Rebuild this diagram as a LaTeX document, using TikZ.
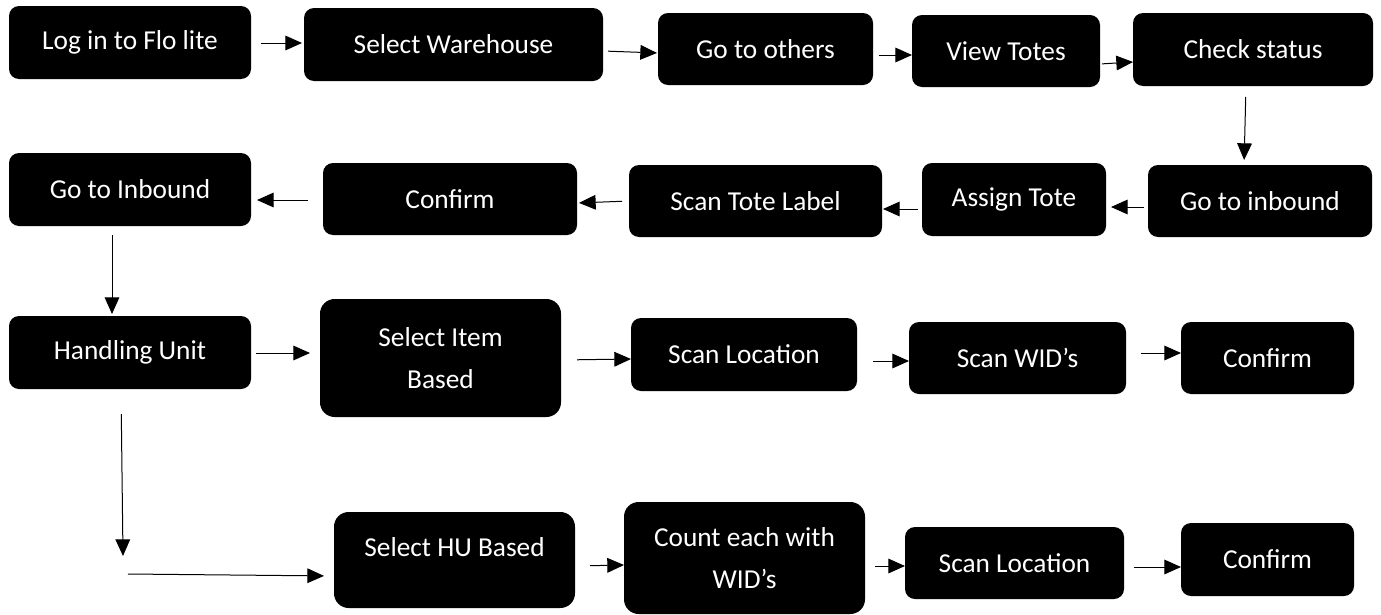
\documentclass[tikz,border=0pt]{standalone}
\usepackage{fontspec}
\setmainfont{Carlito}
\usetikzlibrary{arrows.meta}

\tikzset{every picture/.style={line width=0.75pt}}
\tikzset{
  box/.style 2 args={fill=black, rounded corners=7.5pt, text=white, inner sep=0pt, outer sep=0pt, align=center,
    font=\fontsize{20.5pt}{32pt}\selectfont, minimum width=#1pt, minimum height=#2pt},
  flow/.style={draw=black, -{Triangle[length=12.5pt,width=11pt]}}
}

\begin{document}
\begin{tikzpicture}[x=0.75pt,y=0.75pt,yscale=-1,xscale=1]
\useasboundingbox (0,0) rectangle (1381,614);

\node [box={181.5}{54.75}] (login) at (130,42.5) {Log in to Flo lite};
\node [box={224.25}{54.75}] (warehouse) at (453.5,44.5) {Select Warehouse};
\node [box={161.25}{54}] (others) at (765.5,49) {Go to others};
\node [box={141}{54}] (viewtotes) at (1006,51) {View Totes};
\node [box={180}{54.75}] (status) at (1253,49.5) {Check status};

\node [box={168}{54}] (inboundR) at (1260,201) {Go to inbound};
\node [box={138}{54.75}] (assign) at (1014,199.5) {Assign Tote};
\node [box={189.75}{54}] (scantote) at (755.5,201) {Scan Tote Label};
\node [box={190.5}{54}] (confirmA) at (450,199) {Confirm};
\node [box={181.5}{54.75}] (inboundL) at (130,189.5) {Go to Inbound};

\node [box={181.5}{54.75}] (handling) at (130,352.5) {Handling Unit};
\node [box={180.75}{88.5}, rounded corners=11pt] (item) at (440.5,358) {Select Item\\Based};
\node [box={169.5}{54.75}] (scanlocA) at (744,354.5) {Scan Location};
\node [box={162.75}{54}] (wids) at (1017.5,358) {Scan WID’s};
\node [box={129.75}{54}] (confirmB) at (1267.5,358) {Confirm};

\node [box={180.75}{72}, rounded corners=11pt, text depth=19.5pt] (hubased) at (454.5,560) {Select HU Based};
\node [box={180.75}{84}, rounded corners=11pt] (count) at (744.5,558) {Count each with\\WID’s};
\node [box={164.25}{54}] (scanlocB) at (1014.5,563) {Scan Location};
\node [box={129.75}{54.75}] (confirmC) at (1267.5,559.5) {Confirm};

\coordinate (turn) at (123,556);
\coordinate (bend) at (128,574);

\draw [flow, shorten <=7.5pt, shorten >=1.5pt] (login.east |- 0,43) -- (warehouse.west |- 0,43);
\draw [flow, shorten <=3.75pt, shorten >=0.75pt] (warehouse.east |- 0,51) -- (others.west |- 0,53);
\draw [flow, shorten <=4.5pt] (others.east |- 0,55) -- (viewtotes.west |- 0,55);
\draw [flow, shorten <=1.5pt] (viewtotes.east |- 0,64) -- (status.west |- 0,62);
\draw [flow, shorten <=8.25pt, shorten >=3.75pt] (status.south -| 1246,0) -- (inboundR.north -| 1244,0);

\draw [flow, shorten <=3pt, shorten >=3.75pt] (inboundR.west |- 0,207) -- (assign.east |- 0,207);
\draw [flow, shorten <=3pt, shorten >=0.75pt] (assign.west |- 0,209) -- (scantote.east |- 0,209);
\draw [flow, shorten <=5.25pt, shorten >=1.5pt] (scantote.west |- 0,201) -- (confirmA.east |- 0,203);
\draw [flow, shorten <=11.25pt, shorten >=4.5pt] (confirmA.west |- 0,200) -- (inboundL.east |- 0,200);
\draw [flow, shorten <=6.75pt, shorten >=1.5pt] (inboundL.south -| 112,0) -- (handling.north -| 112,0);

\draw [flow, shorten <=3.75pt, shorten >=7.5pt] (handling.east |- 0,353) -- (item.west |- 0,353);
\draw [flow, shorten <=12pt] (item.east |- 0,360) -- (scanlocA.west |- 0,359);
\draw [flow, shorten <=12pt] (scanlocA.east |- 0,361) -- (wids.west |- 0,361);
\draw [flow, shorten <=11.25pt] (wids.east |- 0,353) -- (confirmB.west |- 0,353);

\draw [flow, shorten <=18.75pt] (handling.south -| 121,0) -- (turn);
\draw [flow, shorten >=7.5pt] (bend) -- (hubased.west |- 0,576);
\draw [flow, shorten <=11.25pt] (hubased.east |- 0,566) -- (count.west |- 0,565);
\draw [flow, shorten <=7.5pt] (count.east |- 0,566) -- (scanlocB.west |- 0,566);
\draw [flow, shorten <=7.5pt] (scanlocB.east |- 0,567) -- (confirmC.west |- 0,567);
\end{tikzpicture}
\end{document}
